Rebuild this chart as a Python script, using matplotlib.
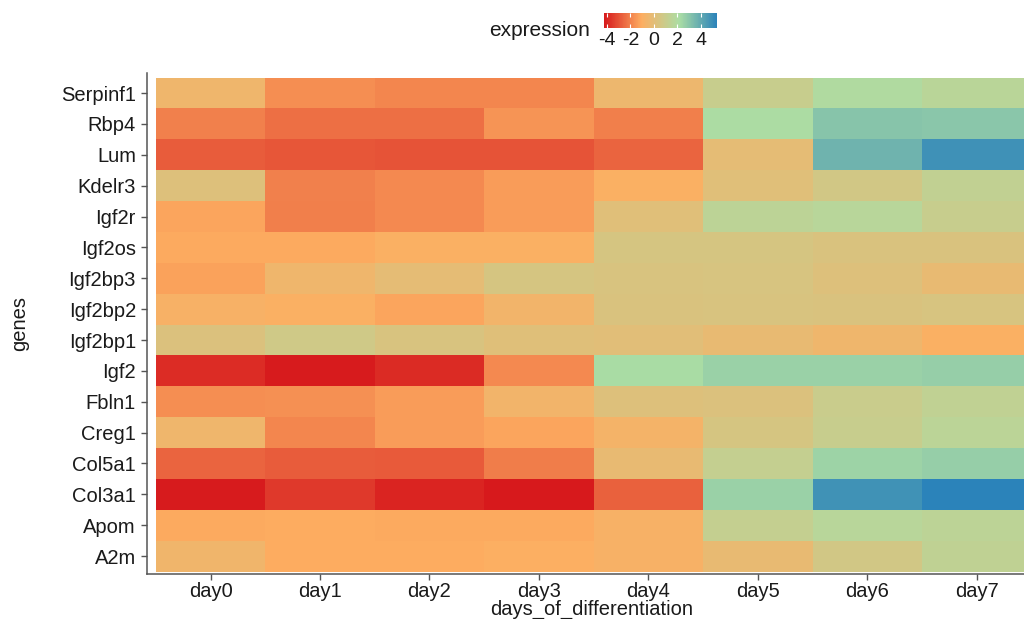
import numpy as np
import matplotlib
matplotlib.use("Agg")
import matplotlib.pyplot as plt
from matplotlib.colors import LinearSegmentedColormap, Normalize

plt.rcParams['font.family'] = ['Liberation Sans', 'DejaVu Sans']
plt.rcParams['axes.unicode_minus'] = False

# data (rows listed top to bottom)
genes = ["Serpinf1", "Rbp4", "Lum", "Kdelr3", "Igf2r", "Igf2os", "Igf2bp3",
         "Igf2bp2", "Igf2bp1", "Igf2", "Fbln1", "Creg1", "Col5a1", "Col3a1",
         "Apom", "A2m"]
days = ["day0", "day1", "day2", "day3", "day4", "day5", "day6", "day7"]

serpinf1 = [-0.5, -1.7, -1.9, -1.9, -0.4, 1.1, 2.0, 1.6]
rbp4 = [-2.0, -2.4, -2.4, -1.6, -2.05, 2.15, 3.1, 3.0]
lum = [-2.8, -2.9, -3.0, -3.0, -2.6, -0.1, 3.7, 4.9]
kdelr3 = [0.2, -2.0, -1.8, -1.4, -0.9, 0.1, 0.7, 1.3]
igf2r = [-1.2, -2.05, -1.8, -1.4, 0.1, 1.5, 1.7, 1.1]
igf2os = [-1.1, -1.1, -0.9, -0.9, 0.5, 0.5, 0.35, 0.35]
igf2bp3 = [-1.3, -0.5, -0.1, 0.5, 0.4, 0.45, 0.2, -0.2]
igf2bp2 = [-0.8, -0.9, -1.2, -0.6, 0.35, 0.4, 0.35, 0.45]
igf2bp1 = [0.3, 0.8, 0.4, 0.15, 0.05, -0.2, -0.5, -0.9]
igf2 = [-3.8, -4.2, -3.85, -1.8, 2.2, 2.6, 2.6, 2.7]
fbln1 = [-1.7, -1.65, -1.4, -0.6, 0.2, 0.3, 1.0, 1.35]
creg1 = [-0.5, -1.9, -1.4, -1.2, -0.7, 0.5, 1.1, 1.55]
col5a1 = [-2.6, -2.8, -2.85, -2.1, -0.2, 1.2, 2.5, 2.7]
col3a1 = [-4.2, -3.55, -4.0, -4.25, -2.7, 2.6, 4.85, 5.4]
apom = [-1.1, -1.05, -1.1, -1.1, -0.8, 1.2, 1.7, 1.5]
a2m = [-0.55, -1.05, -1.05, -1.0, -0.8, -0.2, 0.7, 1.4]

expression = np.array([serpinf1, rbp4, lum, kdelr3, igf2r, igf2os, igf2bp3,
                       igf2bp2, igf2bp1, igf2, fbln1, creg1, col5a1, col3a1,
                       apom, a2m])

cmap = LinearSegmentedColormap.from_list(
    "expr", ["#d7191c", "#fdae61", "#abdda4", "#2b83ba"])
norm = Normalize(vmin=expression.min(), vmax=expression.max())

fig = plt.figure(figsize=(10.24, 6.19), dpi=100)
ax = fig.add_axes([147 / 1024, 1 - 574 / 619, 1 - 147 / 1024, (574 - 73) / 619])

# bottom row first so Serpinf1 ends up on top
mesh = ax.pcolormesh(np.arange(len(days) + 1) - 0.5,
                     np.arange(len(genes) + 1) - 0.5,
                     expression[::-1], cmap=cmap, norm=norm)

ax.set_xlim(-0.58, 7.43)
ax.set_ylim(-0.58, 15.65)
ax.set_xticks(range(len(days)))
ax.set_xticklabels(days)
ax.set_yticks(range(len(genes)))
ax.set_yticklabels(genes[::-1])

for side in ["top", "right"]:
    ax.spines[side].set_visible(False)
for side in ["left", "bottom"]:
    ax.spines[side].set_color("#555555")
    ax.spines[side].set_linewidth(1.1)
ax.tick_params(length=4, width=1, color="#555555", labelsize=14.5,
               labelcolor="#1a1a1a")
ax.tick_params(axis="x", pad=1.5)
ax.tick_params(axis="y", pad=4)

ax.set_xlabel("days_of_differentiation", fontsize=14.5, color="#1a1a1a",
              va="center")
ax.xaxis.set_label_coords(0.507, -0.071)
ax.set_ylabel("genes", fontsize=14.5, color="#1a1a1a", va="center")
ax.yaxis.set_label_coords(-0.145, 0.5)

# horizontal colour bar legend at the top
cax = fig.add_axes([604 / 1024, 1 - 28 / 619, 113 / 1024, 15 / 619])
cb = fig.colorbar(mesh, cax=cax, orientation="horizontal",
                  ticks=[-4, -2, 0, 2, 4])
cb.outline.set_visible(False)
cax.tick_params(direction="in", length=3, color="white", labelsize=14,
                labelcolor="#1a1a1a", pad=3, top=True)
fig.text(590 / 1024, 1 - 31 / 619, "expression", fontsize=15,
         ha="right", va="center", color="#1a1a1a")

fig.savefig("out.png", dpi=100)
